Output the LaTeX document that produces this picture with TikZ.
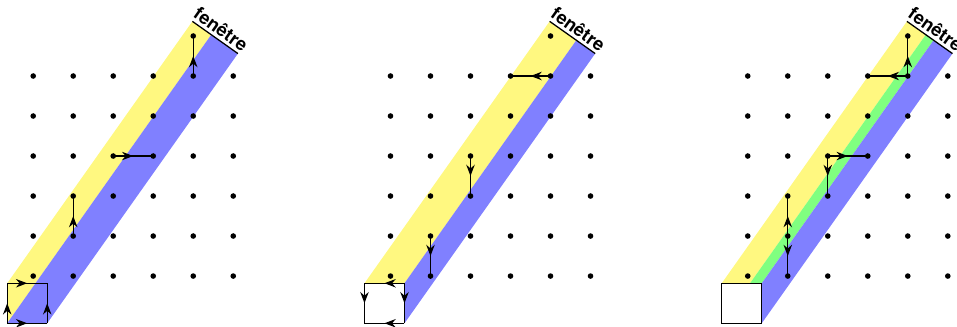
\documentclass[tikz,border=0pt]{standalone}
\usepackage{fontspec}
\setsansfont{TeX Gyre Heros}
\usetikzlibrary{arrows.meta,decorations.markings}

% corners of the unit square and their images at the top of the strip
\newcommand{\coins}{%
  \foreach \nom/\a/\b in {A/0/1, O/0/0, B/1/1, D/1/0} {
    \pgfmathsetmacro{\tpar}{(15.3-\a-\b*sqrt(2))/3}
    \coordinate (\nom) at (\a,\b);
    \coordinate (\nom t) at ({\a+\tpar},{\b+\tpar*sqrt(2)});
  }
  % lattice points
  \foreach \i in {1,...,6} {
    \foreach \j in {1,...,6} {
      \coordinate (p\i\j) at ({\i-0.35},{\j+0.18});
    }
  }
  \coordinate (p57) at (4.65,7.18);
}

\begin{document}
\begin{tikzpicture}[
    midarrow/.style={decoration={markings,
        mark=at position 0.5 with {\arrow{Stealth[length=2.8mm,width=2.1mm,inset=0.9mm]}}},
      postaction={decorate}},
    pas/.style={line width=0.9pt, midarrow},
    point/.style={fill=black},
    jaune/.style={fill=yellow!50},
    bleu/.style={fill=blue!50},
    vert/.style={fill=green!50},
    etiquette/.style={sloped, above, inner sep=2pt, font=\sffamily\bfseries\fontsize{13}{15}\selectfont},
  ]
  \useasboundingbox (-0.18,-0.09) rectangle (23.74,8.08);

  % First picture: forward steps
  \begin{scope}
    \coins
    \fill[jaune] (A) -- (At) -- (Ot) -- (O) -- cycle;
    \fill[bleu] (O) -- (Ot) -- (Dt) -- (D) -- cycle;
    \draw[line width=0.9pt] (At) -- node[etiquette] {fenêtre} (Dt);
    \draw[pas] (O) -- (D);
    \draw[pas] (D) -- (B);
    \draw[pas] (O) -- (A);
    \draw[pas] (A) -- (B);
    \foreach \i in {1,...,6} {
      \foreach \j in {1,...,6} {
        \fill[point] (p\i\j) circle (0.07);
      }
    }
    \fill[point] (p57) circle (0.07);
    \draw[pas] (p22) -- (p23);
    \draw[pas] (p34) -- (p44);
    \draw[pas] (p56) -- (p57);
  \end{scope}

  % Second picture: backward steps
  \begin{scope}[xshift=8.93cm]
    \coins
    \fill[jaune] (A) -- (At) -- (Bt) -- (B) -- cycle;
    \fill[bleu] (B) -- (Bt) -- (Dt) -- (D) -- cycle;
    \draw[line width=0.9pt] (At) -- node[etiquette] {fenêtre} (Dt);
    \fill[white] (O) rectangle (B);
    \draw[pas] (B) -- (A);
    \draw[pas] (A) -- (O);
    \draw[pas] (B) -- (D);
    \draw[pas] (D) -- (O);
    \foreach \i in {1,...,6} {
      \foreach \j in {1,...,6} {
        \fill[point] (p\i\j) circle (0.07);
      }
    }
    \fill[point] (p57) circle (0.07);
    \draw[pas] (p56) -- (p46);
    \draw[pas] (p34) -- (p33);
    \draw[pas] (p22) -- (p21);
  \end{scope}

  % Third picture: both
  \begin{scope}[xshift=17.86cm]
    \coins
    \fill[jaune] (A) -- (At) -- (Ot) -- (O) -- cycle;
    \fill[vert] (O) -- (Ot) -- (Bt) -- (B) -- cycle;
    \fill[bleu] (B) -- (Bt) -- (Dt) -- (D) -- cycle;
    \draw[line width=0.9pt] (At) -- node[etiquette] {fenêtre} (Dt);
    \draw[line width=0.9pt, fill=white] (O) rectangle (B);
    \foreach \i in {1,...,6} {
      \foreach \j in {1,...,6} {
        \fill[point] (p\i\j) circle (0.07);
      }
    }
    \fill[point] (p57) circle (0.07);
    \draw[pas] (p22) -- (p23);
    \draw[pas] (p34) -- (p44);
    \draw[pas] (p56) -- (p57);
    \draw[pas] (p56) -- (p46);
    \draw[pas] (p34) -- (p33);
    \draw[pas] (p22) -- (p21);
  \end{scope}
\end{tikzpicture}
\end{document}
